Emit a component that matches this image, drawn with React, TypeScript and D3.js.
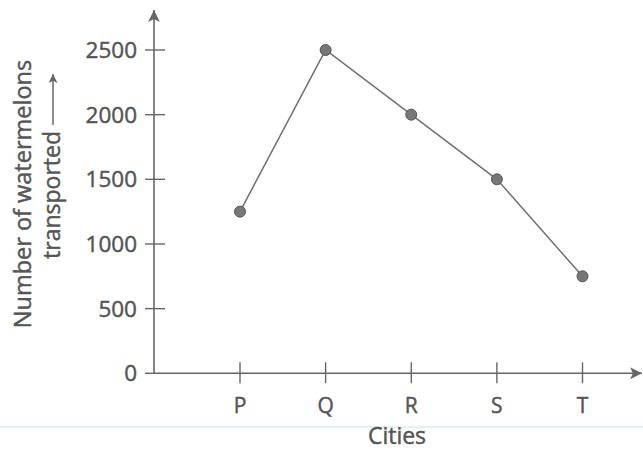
import React from "react";
import * as d3 from "d3";

const cities = ["P", "Q", "R", "S", "T"];
const watermelons = [1250, 2500, 2000, 1500, 750];
const yTicks = [0, 500, 1000, 1500, 2000, 2500];

const W = 643;
const H = 450;
const axisColor = "#666";
const textColor = "#555";
const font = "'Open Sans', sans-serif";
const textStyle = { stroke: textColor, strokeWidth: 0.45 };

export default function App() {
  const x = d3.scalePoint<string>().domain(cities).range([240, 582.5]);
  const y = d3.scaleLinear().domain([0, 2500]).range([373.3, 50]);
  const x0 = 154;
  const y0 = y(0);
  const line = d3
    .line<number>()
    .x((_, i) => x(cities[i]) as number)
    .y((d) => y(d));

  return (
    <svg
      width={W}
      height={H}
      style={{ position: "absolute", left: 0, top: 0, background: "#fff" }}
    >
      <defs>
        <marker id="ah" viewBox="0 0 10 10" refX="10" refY="5" markerWidth="16" markerHeight="12" markerUnits="userSpaceOnUse" orient="auto">
          <path d="M0,0 L10,5 L0,10 L2.5,5 Z" fill={axisColor} />
        </marker>
        <marker id="ah2" viewBox="0 0 10 10" refX="10" refY="5" markerWidth="12" markerHeight="9" markerUnits="userSpaceOnUse" orient="auto">
          <path d="M0,0 L10,5 L0,10 L2.5,5 Z" fill={axisColor} />
        </marker>
      </defs>

      {/* faint page rule from the scan */}
      <line x1={0} x2={W} y1={427} y2={427} stroke="#d6ecf4" strokeWidth={1.5} />

      {/* axes */}
      <line x1={x0} y1={y0} x2={x0} y2={10} stroke={axisColor} strokeWidth={1.6} markerEnd="url(#ah)" />
      <line x1={x0} y1={y0} x2={642} y2={y0} stroke={axisColor} strokeWidth={1.6} markerEnd="url(#ah)" />

      {/* y ticks */}
      {yTicks.map((t) => (
        <g key={t}>
          <line x1={x0 - 9} x2={t > 0 ? x0 + 11 : x0} y1={y(t)} y2={y(t)} stroke={axisColor} strokeWidth={1.4} />
          <text
            x={137}
            y={y(t)}
            dy="0.36em"
            textAnchor="end"
            fontFamily={font}
            fontSize={22.5}
            fill={textColor}
            style={textStyle}
          >
            {t}
          </text>
        </g>
      ))}

      {/* x ticks */}
      {cities.map((c) => (
        <g key={c}>
          <line x1={x(c)} x2={x(c)} y1={y0 - 11} y2={y0 + 10} stroke={axisColor} strokeWidth={1.4} />
          <text
            x={x(c)}
            y={413}
            textAnchor="middle"
            fontFamily={font}
            fontSize={21}
            fill={textColor}
            style={textStyle}
          >
            {c}
          </text>
        </g>
      ))}

      {/* x title */}
      <text x={397} y={444} textAnchor="middle" fontFamily={font} fontSize={23} fill={textColor} style={textStyle}>
        Cities
      </text>

      {/* y title */}
      <text
        transform="translate(31,194) rotate(-90)"
        textAnchor="middle"
        fontFamily={font}
        fontSize={23.5}
        fill={textColor}
        style={textStyle}
      >
        Number of watermelons
      </text>
      <text
        transform="translate(60,195) rotate(-90)"
        textAnchor="middle"
        fontFamily={font}
        fontSize={23}
        fill={textColor}
        style={textStyle}
      >
        transported
      </text>
      <line x1={53} y1={125} x2={53} y2={74} stroke={axisColor} strokeWidth={1.5} markerEnd="url(#ah2)" />

      {/* data line */}
      <path d={line(watermelons) || ""} fill="none" stroke="#707070" strokeWidth={1.5} />
      {watermelons.map((v, i) => (
        <circle key={i} cx={x(cities[i])} cy={y(v)} r={5.5} fill="#777" stroke="#555" strokeWidth={1} />
      ))}
    </svg>
  );
}
